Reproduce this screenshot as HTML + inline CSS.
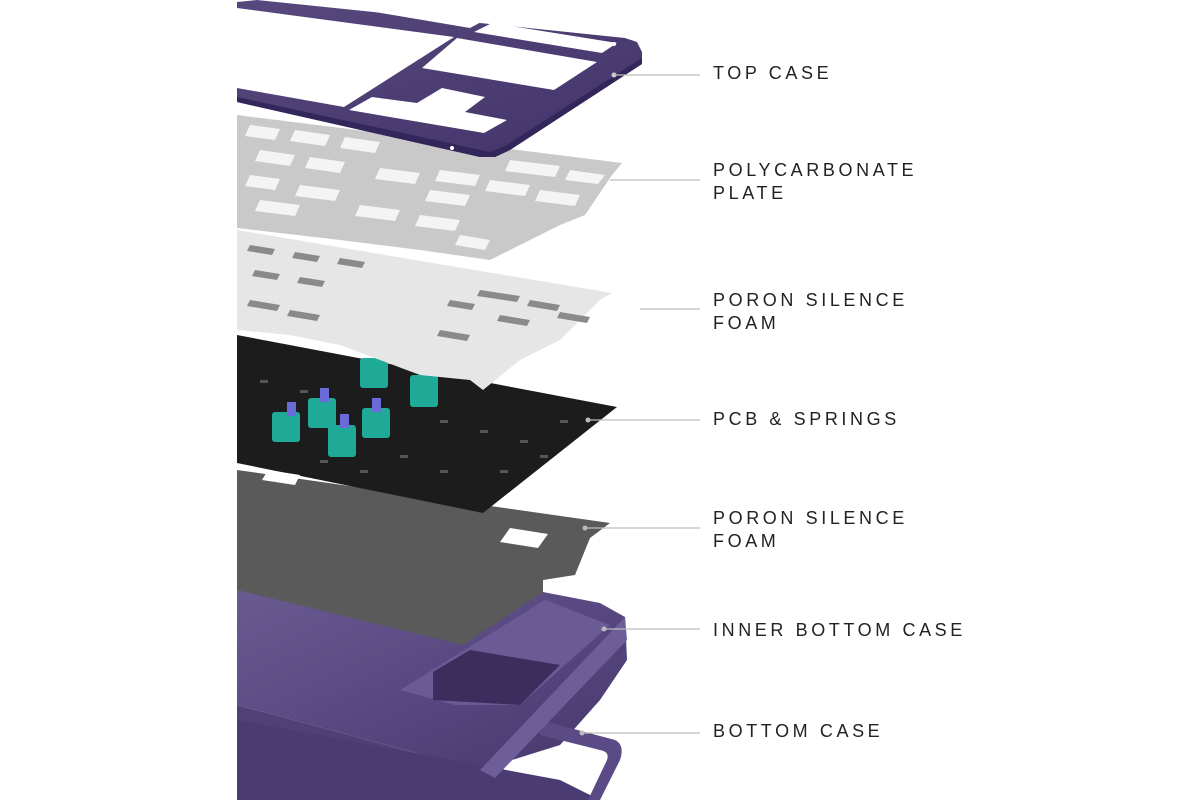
<!DOCTYPE html>
<html><head><meta charset="utf-8"><style>
html,body{margin:0;padding:0;background:#fff;}
.wrap{position:relative;width:1200px;height:800px;overflow:hidden;background:#fff;}
.lbl{position:absolute;left:713px;font-family:"Liberation Sans",sans-serif;font-size:18px;letter-spacing:3.6px;color:#222;line-height:23px;font-weight:normal;}
</style></head><body><div class="wrap">
<svg width="1200" height="800" viewBox="0 0 1200 800" style="position:absolute;left:0;top:0">
<defs>
<linearGradient id="pur" x1="0" y1="0" x2="1" y2="1"><stop offset="0" stop-color="#57497d"/><stop offset="1" stop-color="#42346a"/></linearGradient>
<linearGradient id="pur2" x1="0" y1="0" x2="1" y2="1"><stop offset="0" stop-color="#6a5a92"/><stop offset="0.6" stop-color="#55457e"/><stop offset="1" stop-color="#45366a"/></linearGradient>
</defs>
<!-- bottom case + inner bottom case -->
<polygon points="237,590 543,592 600,603 625,617 627,660 600,700 560,745 480,770 237,705" fill="url(#pur2)"/>
<polygon points="237,705 480,770 237,800" fill="#4f4078"/>
<polygon points="237,720 560,780 600,800 237,800" fill="#4a3b72"/>
<path d="M540,720 L615,740 Q625,745 620,760 L600,800 L588,800 L607,760 Q610,752 600,750 L540,735 Z" fill="#5a4a86"/>
<polygon points="480,770 625,617 627,640 495,778" fill="#6d5e9a"/>
<polygon points="400,690 545,600 610,625 520,705 455,705" fill="#6a5a95"/>
<polygon points="433,672 470,650 560,665 520,705 433,700" fill="#3b2d5c"/>
<!-- gray foam -->
<polygon points="237,470 610,523 590,538 575,575 543,580 543,592 463,645 237,590" fill="#5a5a5a"/>
<polygon points="510,528 548,534 538,548 500,542" fill="#fff"/>
<!-- PCB -->
<polygon points="237,335 617,407 483,513 237,463" fill="#1c1c1c"/>
<polygon points="268,470 300,475 295,485 262,480" fill="#fff"/>
<g fill="#555">
<rect x="260" y="380" width="8" height="3"/><rect x="300" y="390" width="8" height="3"/><rect x="440" y="420" width="8" height="3"/><rect x="480" y="430" width="8" height="3"/><rect x="520" y="440" width="8" height="3"/><rect x="560" y="420" width="8" height="3"/><rect x="440" y="470" width="8" height="3"/><rect x="500" y="470" width="8" height="3"/><rect x="540" y="455" width="8" height="3"/><rect x="400" y="455" width="8" height="3"/><rect x="360" y="470" width="8" height="3"/><rect x="320" y="460" width="8" height="3"/>
</g>
<!-- switches -->
<g fill="#1faa98">
<rect x="272" y="412" width="28" height="30" rx="3"/><rect x="308" y="398" width="28" height="30" rx="3"/><rect x="328" y="425" width="28" height="32" rx="3"/><rect x="362" y="408" width="28" height="30" rx="3"/><rect x="360" y="358" width="28" height="30" rx="3"/><rect x="410" y="375" width="28" height="32" rx="3"/>
</g>
<g fill="#6a6ad8">
<rect x="287" y="402" width="9" height="14"/><rect x="320" y="388" width="9" height="14"/><rect x="340" y="414" width="9" height="14"/><rect x="372" y="398" width="9" height="14"/>
</g>
<!-- poron foam -->
<polygon points="237,230 612,293 600,300 560,340 520,360 483,390 470,380 420,375 340,345 290,335 237,330" fill="#e6e6e6"/>
<g fill="#8a8a8a">
<polygon points="250,245 275,249 272,255 247,251"/><polygon points="295,252 320,256 317,262 292,258"/><polygon points="340,258 365,262 362,268 337,264"/><polygon points="255,270 280,274 277,280 252,276"/><polygon points="300,277 325,281 322,287 297,283"/><polygon points="480,290 520,296 517,302 477,296"/><polygon points="530,300 560,305 557,311 527,306"/><polygon points="560,312 590,317 587,323 557,318"/><polygon points="450,300 475,304 472,310 447,306"/><polygon points="500,315 530,320 527,326 497,321"/><polygon points="250,300 280,305 277,311 247,306"/><polygon points="290,310 320,315 317,321 287,316"/><polygon points="440,330 470,335 467,341 437,336"/>
</g>
<!-- polycarbonate plate -->
<polygon points="237,115 622,163 612,175 585,215 560,225 490,260 420,250 340,240 237,228" fill="#c9c9c9"/>
<g fill="#f4f4f4">
<polygon points="250,125 280,129 275,140 245,136"/><polygon points="295,130 330,135 325,146 290,141"/><polygon points="345,137 380,142 375,153 340,148"/><polygon points="260,150 295,155 290,166 255,161"/><polygon points="310,157 345,162 340,173 305,168"/><polygon points="250,175 280,179 275,190 245,186"/><polygon points="300,185 340,190 335,201 295,196"/><polygon points="380,168 420,173 415,184 375,179"/><polygon points="440,170 480,175 475,186 435,181"/><polygon points="510,160 560,166 555,177 505,171"/><polygon points="570,170 605,175 598,184 565,180"/><polygon points="430,190 470,195 465,206 425,201"/><polygon points="490,180 530,185 525,196 485,191"/><polygon points="540,190 580,195 575,206 535,201"/><polygon points="360,205 400,210 395,221 355,216"/><polygon points="420,215 460,220 455,231 415,226"/><polygon points="260,200 300,205 295,216 255,211"/><polygon points="460,235 490,240 485,250 455,245"/>
</g>
<!-- top case -->
<polygon points="257,0 625,38 637,42 642,52 642,64 510,150 495,157 480,157 237,102 237,0" fill="url(#pur)"/>
<polygon points="480,157 495,157 510,150 642,64 642,58 505,146 490,152 237,97 237,102" fill="#33265a"/>
<g fill="#fff">
<polygon points="237,0 257,0 237,2"/>
<polygon points="304,0 337,0 485,20 470,28"/>
<polygon points="237,8 454,37 344,107 237,88"/>
<polygon points="492,23 617,43 602,53 474,32"/>
<polygon points="457,38 597,62 554,90 422,68"/>
<polygon points="349,110 372,97 417,103 442,88 485,97 465,112 507,120 484,133"/>
</g>
<circle cx="614" cy="75" r="2.5" fill="#ccc"/>
<circle cx="452" cy="148" r="2" fill="#fff"/>
<circle cx="614" cy="44" r="2" fill="#fff"/>
<!-- leader lines -->
<g stroke="#bdbdbd" stroke-width="1.2">
<line x1="614" y1="75" x2="700" y2="75"/>
<line x1="610" y1="180" x2="700" y2="180"/>
<line x1="640" y1="309" x2="700" y2="309"/>
<line x1="588" y1="420" x2="700" y2="420"/>
<line x1="585" y1="528" x2="700" y2="528"/>
<line x1="604" y1="629" x2="700" y2="629"/>
<line x1="582" y1="733" x2="700" y2="733"/>
</g>
<g fill="#bbb"><circle cx="588" cy="420" r="2.5"/><circle cx="585" cy="528" r="2.5"/><circle cx="604" cy="629" r="2.5"/><circle cx="582" cy="733" r="2.5"/></g>
</svg>
<div class="lbl" style="top:62px">TOP CASE</div>
<div class="lbl" style="top:159px">POLYCARBONATE<br>PLATE</div>
<div class="lbl" style="top:289px">PORON SILENCE<br>FOAM</div>
<div class="lbl" style="top:408px">PCB &amp; SPRINGS</div>
<div class="lbl" style="top:507px">PORON SILENCE<br>FOAM</div>
<div class="lbl" style="top:619px">INNER BOTTOM CASE</div>
<div class="lbl" style="top:720px">BOTTOM CASE</div>
</div></body></html>
